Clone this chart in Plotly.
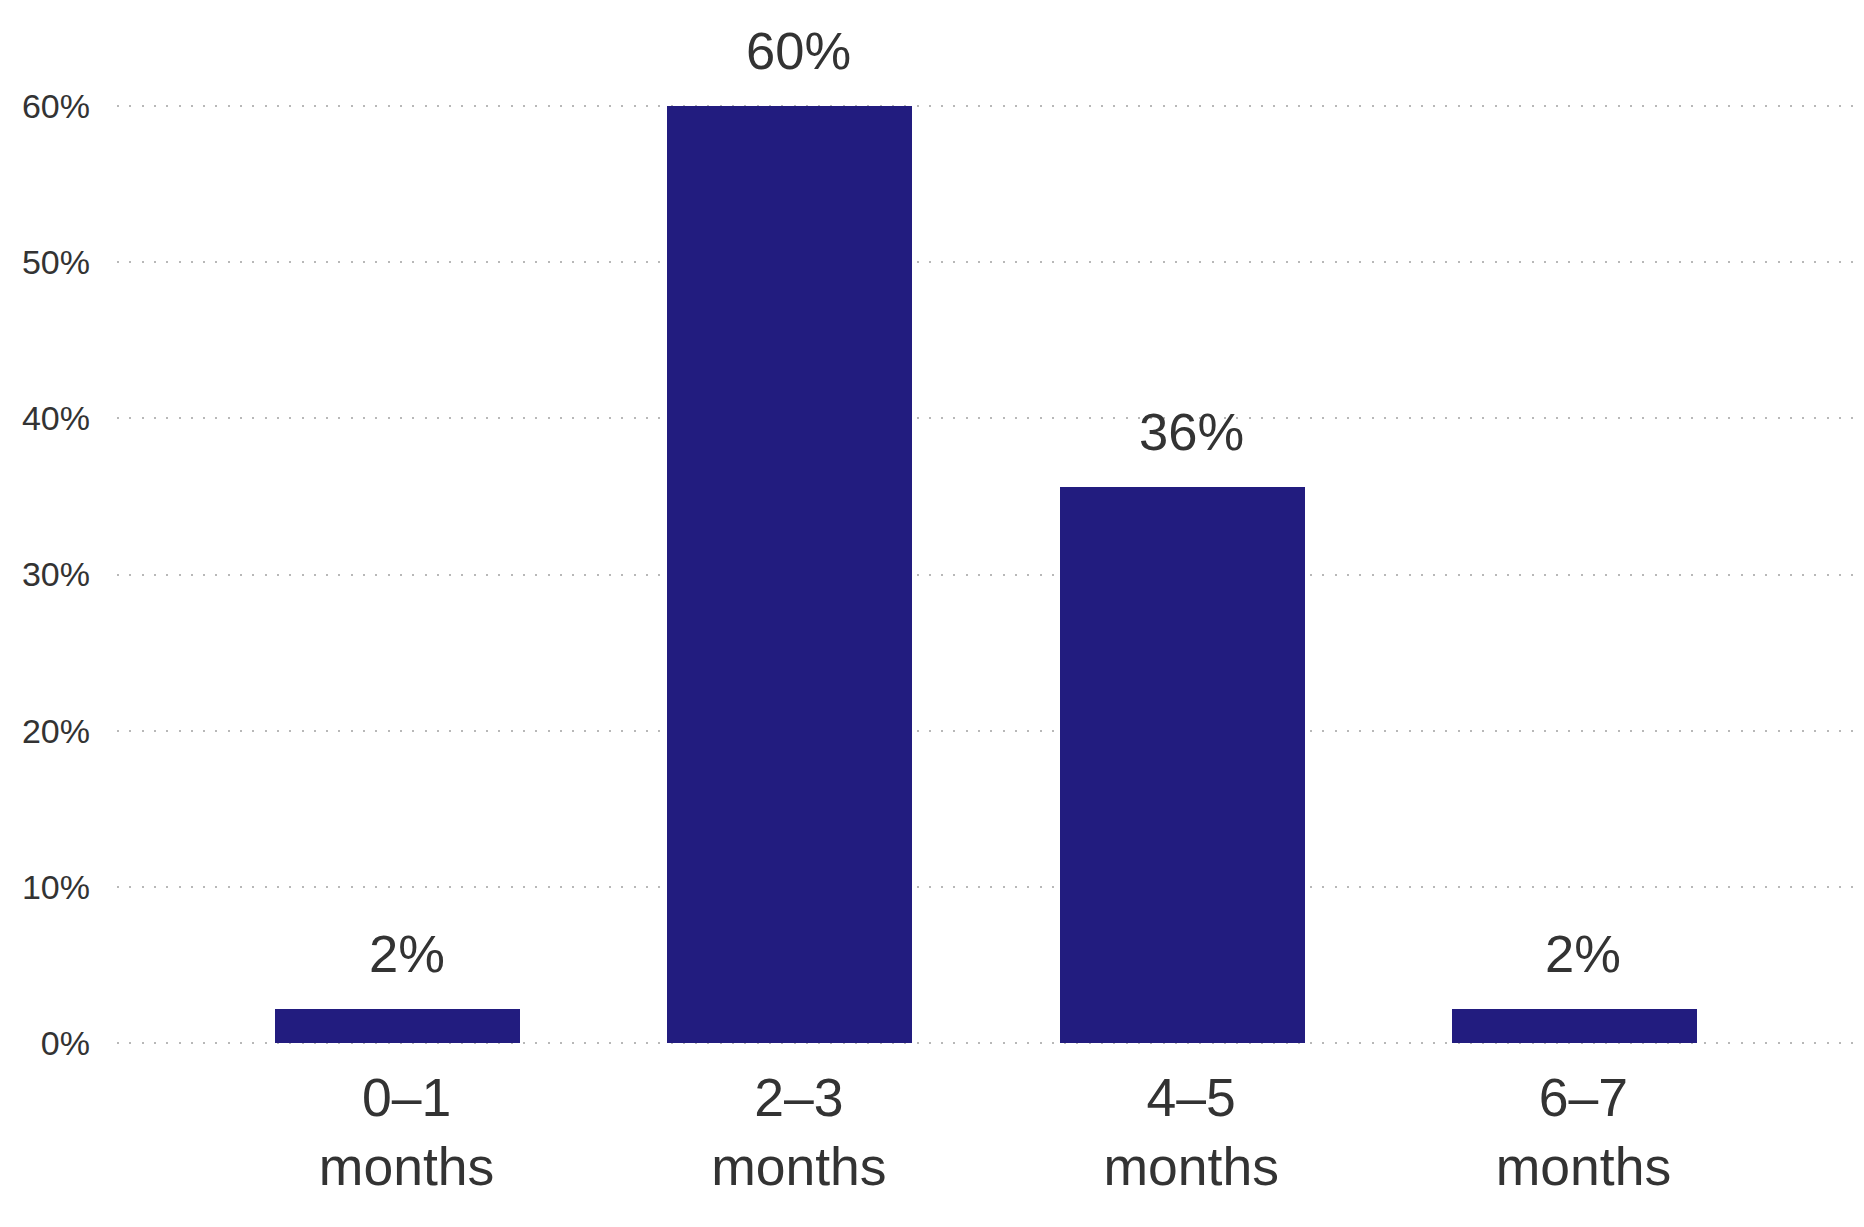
import plotly.graph_objects as go

categories = ["0–1<br>months", "2–3<br>months", "4–5<br>months", "6–7<br>months"]
values = [2.2, 60.0, 35.6, 2.2]
value_labels = ["2%", "60%", "36%", "2%"]
y_ticks = [0, 10, 20, 30, 40, 50, 60]
y_tick_labels = ["0%", "10%", "20%", "30%", "40%", "50%", "60%"]

BAR = "#221C7F"
TXT = "#333333"
FONT = "Liberation Sans, Arial, sans-serif"

fig = go.Figure()
fig.add_trace(go.Bar(
    x=categories, y=values,
    marker=dict(color=BAR, line=dict(width=0)),
    width=0.6245, offset=-0.335,
    hoverinfo="skip",
))

for c, v, t in zip(categories, values, value_labels):
    fig.add_annotation(
        x=c, y=v, text=t, showarrow=False,
        xanchor="center", yanchor="bottom", yshift=24,
        font=dict(family=FONT, size=52.5, color=TXT),
    )

fig.update_layout(
    width=1864, height=1227,
    margin=dict(l=117, r=0, t=101, b=179),
    plot_bgcolor="white", paper_bgcolor="white",
    showlegend=False,
    font=dict(family=FONT, color=TXT),
    bargap=0,
)
fig.update_xaxes(
    type="category",
    range=[-0.738, 3.715],
    showgrid=False, zeroline=False, showline=False, ticks="",
    tickfont=dict(family=FONT, size=53.5, color=TXT),
    ticklabelstandoff=13,
)
fig.update_yaxes(
    range=[-0.3, 60.3],
    tickvals=y_ticks, ticktext=y_tick_labels,
    showgrid=True, gridcolor="#b8b8b8", gridwidth=2, griddash="2px,10.3px",
    zeroline=False, showline=False, ticks="",
    tickfont=dict(family=FONT, size=34, color=TXT),
    ticklabelstandoff=26,
)

fig.write_html("out.html", config={"displayModeBar": False},
               post_script="document.body.style.margin='0';")
